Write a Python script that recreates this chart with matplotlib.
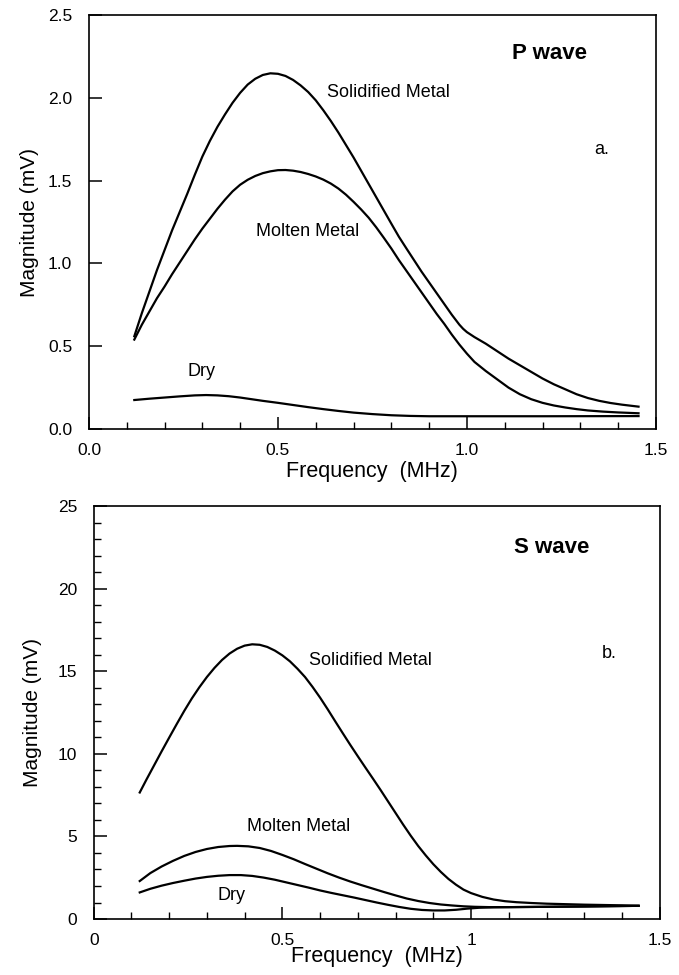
import matplotlib
matplotlib.use("Agg")
import matplotlib.pyplot as plt
from matplotlib.ticker import MultipleLocator, FixedLocator

plt.rcParams['font.family'] = ['Liberation Sans', 'DejaVu Sans']

# ---------------- data: P wave (panel a) ----------------
p_solid_f = [0.12, 0.14, 0.16, 0.18, 0.20, 0.22, 0.24, 0.26, 0.28, 0.30, 0.32, 0.34, 0.36, 0.38,
             0.40, 0.42, 0.44, 0.46, 0.48, 0.50, 0.52, 0.54, 0.56, 0.58, 0.60, 0.62, 0.64, 0.66,
             0.68, 0.70, 0.72, 0.74, 0.76, 0.78, 0.80, 0.82, 0.84, 0.86, 0.88, 0.90, 0.92, 0.94,
             0.96, 0.98, 0.99, 1.00, 1.02, 1.05, 1.08, 1.11, 1.14, 1.17, 1.20, 1.23, 1.26, 1.29,
             1.32, 1.35, 1.38, 1.41, 1.454]
p_solid_m = [0.56, 0.70, 0.83, 0.96, 1.08, 1.20, 1.31, 1.42, 1.535, 1.645, 1.74, 1.825, 1.90, 1.97,
             2.03, 2.08, 2.115, 2.138, 2.148, 2.145, 2.132, 2.108, 2.075, 2.035, 1.985, 1.925, 1.86, 1.79,
             1.715, 1.64, 1.56, 1.48, 1.40, 1.32, 1.24, 1.161, 1.09, 1.02, 0.95, 0.885, 0.82, 0.755,
             0.69, 0.63, 0.605, 0.585, 0.555, 0.515, 0.47, 0.425, 0.385, 0.345, 0.305, 0.27, 0.24, 0.21,
             0.187, 0.17, 0.157, 0.147, 0.135]

p_molten_f = [0.12, 0.14, 0.16, 0.18, 0.20, 0.22, 0.24, 0.26, 0.28, 0.30, 0.32, 0.34, 0.36, 0.38,
              0.40, 0.42, 0.44, 0.46, 0.48, 0.50, 0.52, 0.54, 0.56, 0.58, 0.60, 0.62, 0.64, 0.66,
              0.68, 0.70, 0.72, 0.74, 0.76, 0.78, 0.80, 0.82, 0.84, 0.86, 0.88, 0.90, 0.92, 0.94,
              0.96, 0.98, 1.00, 1.02, 1.05, 1.08, 1.11, 1.14, 1.17, 1.20, 1.23, 1.26, 1.29, 1.32,
              1.36, 1.40, 1.454]
p_molten_m = [0.54, 0.63, 0.71, 0.79, 0.86, 0.935, 1.005, 1.075, 1.145, 1.21, 1.27, 1.33, 1.385, 1.435,
              1.475, 1.505, 1.528, 1.545, 1.556, 1.563, 1.564, 1.56, 1.552, 1.54, 1.525, 1.506, 1.482, 1.452,
              1.415, 1.372, 1.326, 1.276, 1.218, 1.155, 1.09, 1.02, 0.955, 0.89, 0.825, 0.76, 0.695, 0.635,
              0.57, 0.51, 0.455, 0.405, 0.35, 0.30, 0.25, 0.21, 0.18, 0.158, 0.142, 0.13, 0.12, 0.112,
              0.105, 0.10, 0.095]

p_dry_f = [0.12, 0.16, 0.20, 0.24, 0.28, 0.31, 0.34, 0.37, 0.40, 0.43, 0.46, 0.50, 0.54, 0.58,
           0.62, 0.66, 0.70, 0.75, 0.80, 0.85, 0.90, 1.0, 1.2, 1.454]
p_dry_m = [0.175, 0.183, 0.19, 0.197, 0.203, 0.205, 0.203, 0.198, 0.19, 0.18, 0.17, 0.158, 0.145, 0.132,
           0.12, 0.109, 0.099, 0.09, 0.083, 0.079, 0.077, 0.077, 0.077, 0.078]

# ---------------- data: S wave (panel b) ----------------
s_solid_f = [0.122, 0.14, 0.16, 0.18, 0.20, 0.22, 0.24, 0.26, 0.28, 0.30, 0.32, 0.34, 0.36, 0.38,
             0.40, 0.42, 0.44, 0.46, 0.48, 0.50, 0.52, 0.54, 0.56, 0.58, 0.60, 0.62, 0.64, 0.66,
             0.68, 0.70, 0.72, 0.74, 0.76, 0.78, 0.80, 0.82, 0.84, 0.86, 0.88, 0.90, 0.92, 0.94,
             0.96, 0.98, 1.00, 1.03, 1.06, 1.09, 1.12, 1.16, 1.20, 1.25, 1.30, 1.35, 1.40, 1.444]
s_solid_m = [7.66, 8.45, 9.3, 10.15, 10.98, 11.8, 12.6, 13.35, 14.03, 14.65, 15.2, 15.68, 16.07, 16.36,
             16.55, 16.63, 16.6, 16.47, 16.25, 15.96, 15.6, 15.15, 14.65, 14.05, 13.4, 12.7, 11.97, 11.25,
             10.54, 9.85, 9.17, 8.5, 7.82, 7.12, 6.42, 5.72, 5.05, 4.42, 3.85, 3.32, 2.85, 2.43,
             2.08, 1.78, 1.57, 1.34, 1.18, 1.08, 1.02, 0.97, 0.93, 0.9, 0.87, 0.85, 0.83, 0.8]

s_molten_f = [0.122, 0.15, 0.18, 0.21, 0.24, 0.27, 0.30, 0.33, 0.36, 0.38, 0.41, 0.44, 0.47, 0.50,
              0.53, 0.56, 0.59, 0.62, 0.65, 0.68, 0.71, 0.74, 0.77, 0.80, 0.83, 0.86, 0.89, 0.92,
              0.95, 0.98, 1.01, 1.05, 1.1, 1.2, 1.3, 1.444]
s_molten_m = [2.30, 2.78, 3.18, 3.52, 3.82, 4.06, 4.24, 4.36, 4.42, 4.43, 4.4, 4.3, 4.12, 3.88,
              3.62, 3.33, 3.05, 2.77, 2.51, 2.27, 2.05, 1.84, 1.63, 1.43, 1.24, 1.09, 0.97, 0.88,
              0.82, 0.77, 0.74, 0.72, 0.72, 0.74, 0.76, 0.8]

s_dry_f = [0.122, 0.15, 0.18, 0.21, 0.24, 0.27, 0.30, 0.33, 0.36, 0.39, 0.42, 0.45, 0.48, 0.51,
           0.54, 0.57, 0.60, 0.63, 0.66, 0.69, 0.72, 0.75, 0.78, 0.81, 0.84, 0.87, 0.90, 0.93,
           0.96, 0.99, 1.02, 1.06, 1.1, 1.2, 1.3, 1.444]
s_dry_m = [1.61, 1.83, 2.02, 2.18, 2.32, 2.45, 2.55, 2.62, 2.66, 2.66, 2.61, 2.51, 2.38, 2.22,
           2.06, 1.9, 1.73, 1.58, 1.44, 1.3, 1.15, 1.0, 0.86, 0.73, 0.62, 0.55, 0.52, 0.52,
           0.56, 0.63, 0.68, 0.71, 0.72, 0.74, 0.76, 0.8]

p_xticklabels = ["0.0", "0.5", "1.0", "1.5"]
p_yticklabels = ["0.0", "0.5", "1.0", "1.5", "2.0", "2.5"]
s_xticklabels = ["0", "0.5", "1", "1.5"]
s_yticklabels = ["0", "5", "10", "15", "20", "25"]

xlabel = "Frequency  (MHz)"
ylabel = "Magnitude (mV)"

LW = 1.6
TICKFS = 12.5
LABFS = 15.5
ANNFS = 13

fig = plt.figure(figsize=(6.79, 9.75), dpi=100)
ax1 = fig.add_axes([0.131, 0.560, 0.835, 0.4246])
ax2 = fig.add_axes([0.138, 0.0574, 0.8336, 0.4236])

for f, m in ((p_solid_f, p_solid_m), (p_molten_f, p_molten_m), (p_dry_f, p_dry_m)):
    ax1.plot(f, m, color='black', lw=LW, solid_joinstyle='round')
for f, m in ((s_solid_f, s_solid_m), (s_molten_f, s_molten_m), (s_dry_f, s_dry_m)):
    ax2.plot(f, m, color='black', lw=LW, solid_joinstyle='round')

ax1.set_xlim(0, 1.5)
ax1.set_ylim(0, 2.5)
ax1.xaxis.set_major_locator(FixedLocator([0, 0.5, 1.0, 1.5]))
ax1.set_xticklabels(p_xticklabels)
ax1.xaxis.set_minor_locator(MultipleLocator(0.1))
ax1.yaxis.set_major_locator(FixedLocator([0, 0.5, 1.0, 1.5, 2.0, 2.5]))
ax1.set_yticklabels(p_yticklabels)

ax2.set_xlim(0, 1.5)
ax2.set_ylim(0, 25)
ax2.xaxis.set_major_locator(FixedLocator([0, 0.5, 1.0, 1.5]))
ax2.set_xticklabels(s_xticklabels)
ax2.xaxis.set_minor_locator(MultipleLocator(0.1))
ax2.yaxis.set_major_locator(FixedLocator([0, 5, 10, 15, 20, 25]))
ax2.set_yticklabels(s_yticklabels)
ax2.yaxis.set_minor_locator(MultipleLocator(1))

for ax in (ax1, ax2):
    ax.tick_params(which='major', direction='in', length=9, width=1.1,
                   labelsize=TICKFS, top=False, right=False)
    ax.tick_params(which='minor', direction='in', length=5, width=1.0,
                   top=False, right=False)
    ax.tick_params(axis='x', which='major', pad=10)
    ax.tick_params(axis='y', which='major', pad=12)
    for s in ax.spines.values():
        s.set_linewidth(1.2)
    ax.set_xlabel(xlabel, fontsize=LABFS)
    ax.set_ylabel(ylabel, fontsize=15)

ax1.xaxis.set_label_coords(0.5, -0.078)
ax1.yaxis.set_label_coords(-0.088, 0.5)
ax2.xaxis.set_label_coords(0.5, -0.066)
ax2.yaxis.set_label_coords(-0.092, 0.5)

# annotations panel a
ax1.text(1.219, 2.27, "P wave", fontsize=16, fontweight='bold', ha='center', va='center')
ax1.text(0.631, 2.03, "Solidified Metal", fontsize=ANNFS, ha='left', va='center')
ax1.text(0.442, 1.19, "Molten Metal", fontsize=ANNFS, ha='left', va='center')
ax1.text(0.262, 0.346, "Dry", fontsize=ANNFS, ha='left', va='center')
ax1.text(1.338, 1.685, "a.", fontsize=13, ha='left', va='center')

# annotations panel b
ax2.text(1.214, 22.5, "S wave", fontsize=16, fontweight='bold', ha='center', va='center')
ax2.text(0.571, 15.66, "Solidified Metal", fontsize=ANNFS, ha='left', va='center')
ax2.text(0.407, 5.58, "Molten Metal", fontsize=ANNFS, ha='left', va='center')
ax2.text(0.328, 1.41, "Dry", fontsize=ANNFS, ha='left', va='center')
ax2.text(1.347, 16.08, "b.", fontsize=13, ha='left', va='center')

fig.savefig("out.png", dpi=100)
